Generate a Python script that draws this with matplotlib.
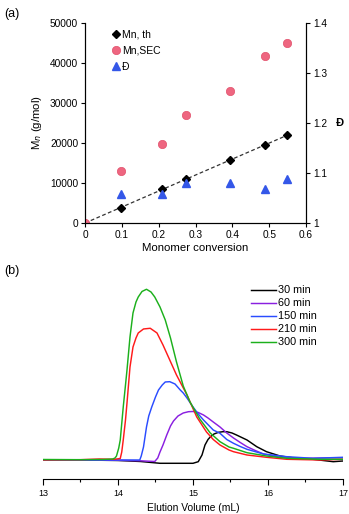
import numpy as np
import matplotlib
matplotlib.use('Agg')
import matplotlib.pyplot as plt

plt.rcParams['font.family'] = ['Liberation Sans', 'DejaVu Sans']

# panel (a): molecular weight vs conversion
conversion = [0, 0.097, 0.21, 0.275, 0.395, 0.49, 0.548]
mn_th = [0, 3800, 8500, 11000, 15800, 19600, 21900]
mn_sec = [0, 13000, 19800, 27000, 33000, 41800, 45000]
conv_d = [0.097, 0.21, 0.275, 0.395, 0.49, 0.548]
dispersity = [1.058, 1.058, 1.08, 1.08, 1.069, 1.089]

# panel (b): SEC traces (elution volume, signal)
v_30 = [13.0, 13.5, 14.0, 14.3, 14.56, 15.0, 15.07, 15.12, 15.16, 15.2, 15.23, 15.28, 15.34, 15.4, 15.45, 15.52, 15.58, 15.65, 15.72, 15.85, 15.98, 16.16, 16.38, 16.6, 16.87, 17.0]
s_30 = [0, 0, -0.5, -1.5, -3.3, -3.3, -1.7, 5, 15, 20.5, 23, 26, 27.7, 28.3, 28.3, 27, 25, 22.5, 20, 13.3, 8.3, 4, 1.7, 0.7, -1.7, -1]
v_60 = [13.0, 13.5, 14.0, 14.3, 14.49, 14.53, 14.56, 14.6, 14.65, 14.7, 14.74, 14.8, 14.87, 14.94, 15.0, 15.07, 15.14, 15.2, 15.27, 15.36, 15.45, 15.54, 15.63, 15.72, 15.83, 15.94, 16.16, 16.5, 17.0]
s_60 = [0, 0, -0.3, -0.8, -1.5, 2, 8, 15, 25, 34, 39, 44, 47, 48.3, 48.5, 47.5, 45, 42, 38, 33, 27, 22, 17.5, 13.3, 9.5, 6, 2.7, 1.7, 2.3]
v_150 = [13.0, 13.5, 14.0, 14.29, 14.31, 14.34, 14.38, 14.41, 14.45, 14.5, 14.54, 14.59, 14.63, 14.69, 14.76, 14.83, 14.87, 14.92, 15.0, 15.07, 15.14, 15.27, 15.36, 15.45, 15.54, 15.63, 15.72, 15.94, 16.25, 16.6, 17.0]
s_150 = [0, 0, 0, 0, 4, 13, 33, 44, 53, 63, 70, 75, 78, 78.3, 76, 70, 67, 62, 53, 46, 40, 30, 26.7, 20.5, 16.7, 13.5, 10.7, 6, 3.3, 1.7, 2.7]
v_210 = [13.0, 13.5, 13.75, 13.95, 14.03, 14.05, 14.07, 14.1, 14.12, 14.14, 14.16, 14.2, 14.24, 14.27, 14.34, 14.43, 14.52, 14.6, 14.69, 14.78, 14.85, 14.92, 15.05, 15.18, 15.27, 15.36, 15.48, 15.54, 15.72, 15.98, 16.25, 16.7, 17.0]
s_210 = [0, 0.3, 1, 0.7, 1.5, 8, 20, 40, 57, 75, 93, 113, 122, 127, 131, 131.7, 127, 115, 100, 85, 75, 65, 43, 28, 20.5, 15, 10, 8.3, 5, 2.7, 0.7, 0, 0.7]
v_300 = [13.0, 13.5, 13.8, 13.93, 13.96, 13.98, 14.01, 14.03, 14.07, 14.1, 14.12, 14.16, 14.2, 14.24, 14.27, 14.32, 14.38, 14.44, 14.49, 14.56, 14.63, 14.7, 14.78, 14.87, 14.96, 15.09, 15.23, 15.36, 15.48, 15.54, 15.72, 15.98, 16.25, 16.7, 17.0]
s_300 = [0.5, 0.3, 0.5, 1, 2, 4, 12, 20, 53, 75, 90, 123, 147, 158, 163, 168.5, 170.7, 168, 163, 153, 140, 122, 98, 74, 58, 41, 27, 18.3, 13, 11.7, 7.3, 4, 1.7, 0.7, 0.7]

traces = [
    ('30 min', v_30, s_30, 'black'),
    ('60 min', v_60, s_60, '#8a1fe0'),
    ('150 min', v_150, s_150, '#2a4cff'),
    ('210 min', v_210, s_210, '#ff1a1a'),
    ('300 min', v_300, s_300, '#1cb01c'),
]

fig = plt.figure(figsize=(3.49, 5.14), dpi=100)

# ---- (a)
ax = fig.add_axes([0.2436, 0.5661, 0.6332, 0.3892])
ax2 = ax.twinx()
ax.plot([conversion[0], conversion[-1]], [mn_th[0], mn_th[-1]], ls='--', color='#333333', lw=0.9, dashes=(3, 2), zorder=1)
ax.plot(conversion, mn_th, 'D', color='black', ms=4, label='Mn, th', zorder=2)
ax.plot(conversion, mn_sec, 'o', color='#ee6680', mec='#e2506c', mew=0.5, ms=6, label='Mn,SEC', zorder=3)
ax2.plot(conv_d, dispersity, '^', color='#3457e8', ms=6, label='Đ')

ax.set_xlim(0, 0.6)
ax.set_ylim(0, 50000)
ax2.set_ylim(1, 1.4)
ax.set_xticks(np.arange(0, 0.61, 0.1))
ax.set_xticklabels(['0', '0.1', '0.2', '0.3', '0.4', '0.5', '0.6'])
ax.set_yticks(np.arange(0, 50001, 10000))
ax2.set_yticks([1, 1.1, 1.2, 1.3, 1.4])
ax2.set_yticklabels(['1', '1.1', '1.2', '1.3', '1.4'])
for a in (ax, ax2):
    a.spines['top'].set_visible(False)
    a.tick_params(labelsize=7.3, length=3, width=0.8, direction='out', pad=2)
ax.set_xlabel('Monomer conversion', fontsize=8.2, labelpad=2)
ax.set_ylabel('M$_n$ (g/mol)', fontsize=8.2, labelpad=4)
ax2.set_ylabel('Đ', fontsize=8, fontweight='bold', rotation=0, labelpad=9, va='center')

h1, l1 = ax.get_legend_handles_labels()
h2, l2 = ax2.get_legend_handles_labels()
ax.legend(h1 + h2, l1 + l2,
          loc='upper left', bbox_to_anchor=(0.1, 1.0), frameon=False, fontsize=7.5,
          handlelength=0.6, handletextpad=0.2, labelspacing=0.6, borderaxespad=0.2)

fig.text(0.012, 0.985, '(a)', fontsize=9, va='top')

# ---- (b)
bx = fig.add_axes([0.1232, 0.0681, 0.8596, 0.3872])
for label, v, s, c in traces:
    bx.plot(v, s, color=c, lw=1.05, label=label, solid_joinstyle='round')
bx.set_xlim(13, 17)
bx.set_ylim(-19, 180)
bx.set_xticks([13, 14, 15, 16, 17])
bx.set_xticks([13.5, 14.5, 15.5, 16.5], minor=True)
bx.set_yticks([])
for side in ('top', 'left', 'right'):
    bx.spines[side].set_visible(False)
bx.tick_params(axis='x', which='major', labelsize=6.5, length=4, width=0.8, pad=3)
bx.tick_params(axis='x', which='minor', length=2.5, width=0.8)
bx.set_xlabel('Elution Volume (mL)', fontsize=7.4, labelpad=4)
bx.legend(loc='upper left', bbox_to_anchor=(0.68, 0.995), frameon=False, fontsize=7.8,
          handlelength=2.3, handletextpad=0.15, labelspacing=0.28, borderaxespad=0)

fig.text(0.012, 0.485, '(b)', fontsize=9, va='top')

fig.savefig('out.png', dpi=100)
